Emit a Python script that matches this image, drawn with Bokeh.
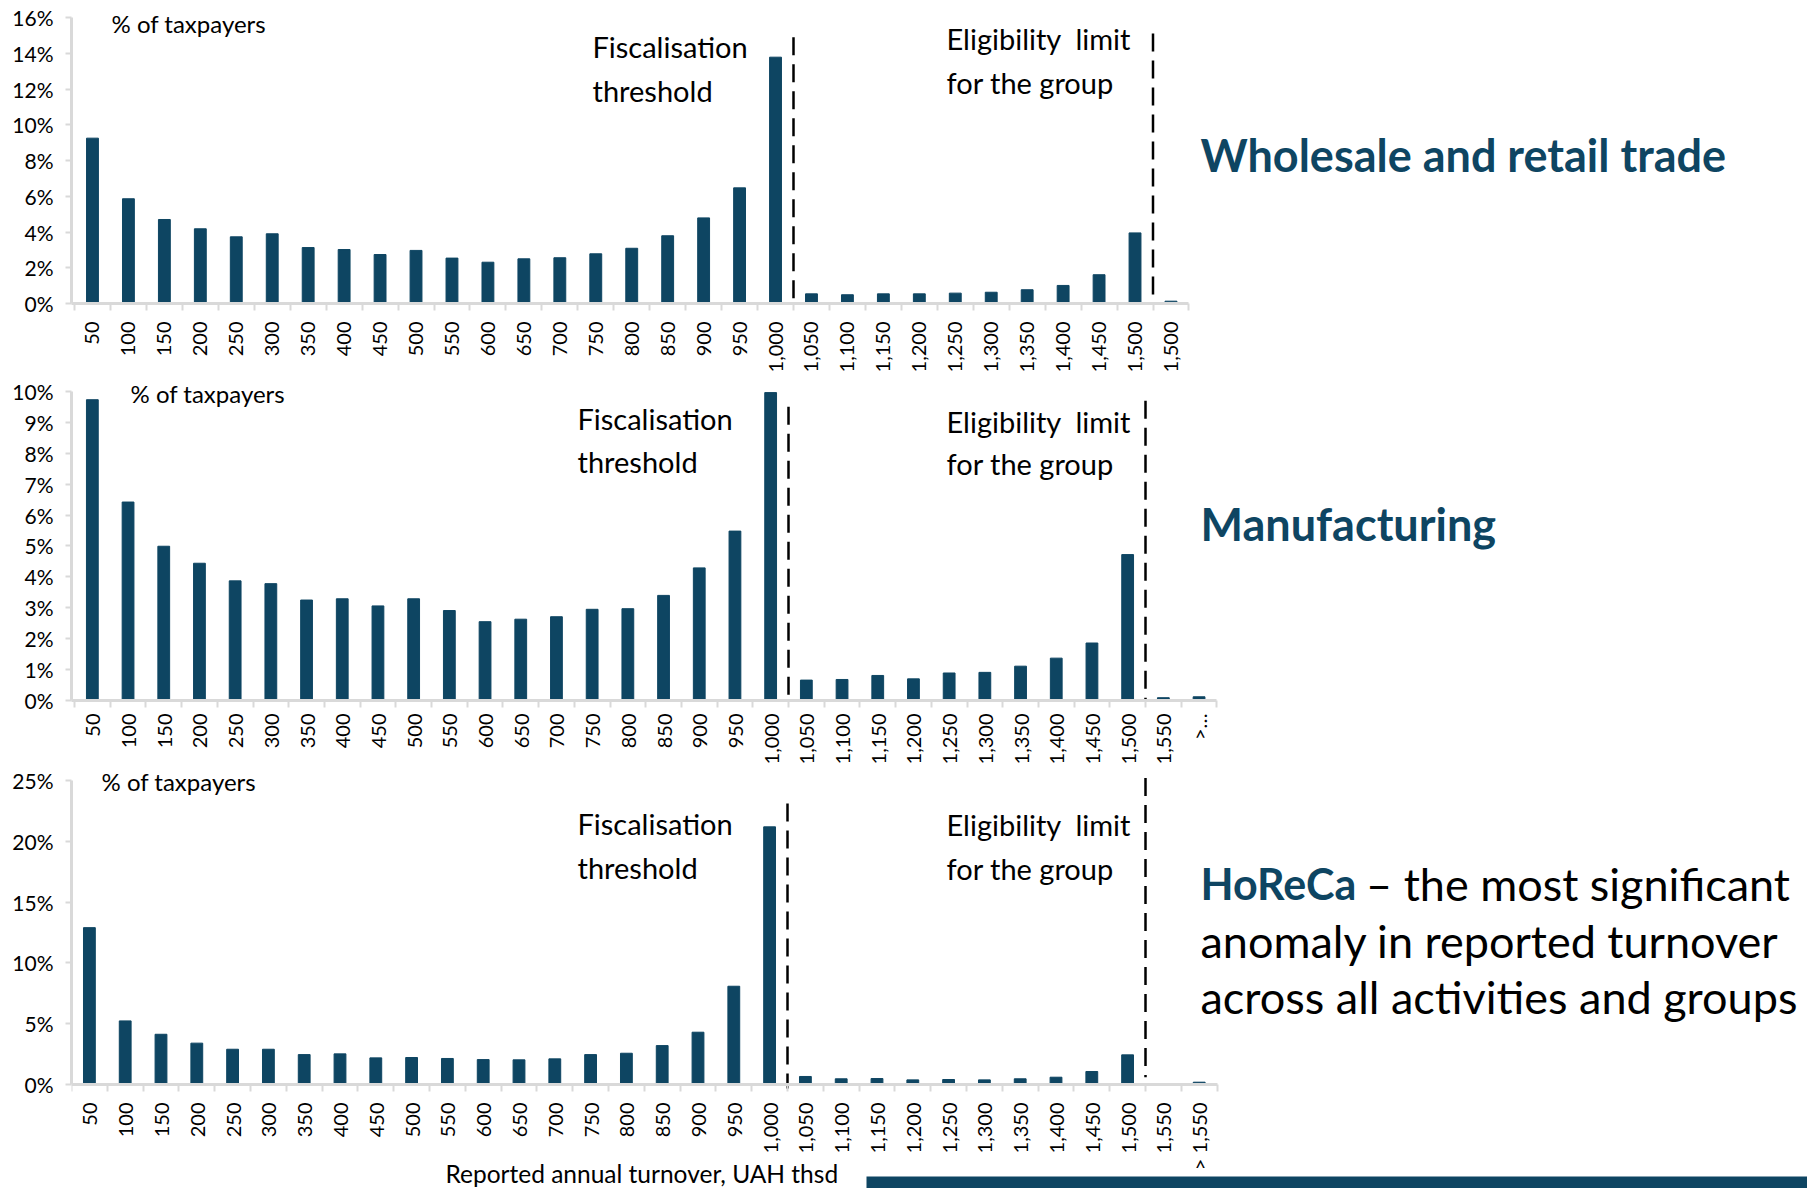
import math
from bokeh.plotting import figure
from bokeh.layouts import column
from bokeh.models import Range1d, FixedTicker, PrintfTickFormatter, Label, BoxAnnotation, ColumnDataSource
from bokeh.embed import file_html
from bokeh.resources import INLINE

# Turnover bins, UAH thsd
base_bins = ["50", "100", "150", "200", "250", "300", "350", "400", "450", "500",
             "550", "600", "650", "700", "750", "800", "850", "900", "950", "1,000",
             "1,050", "1,100", "1,150", "1,200", "1,250", "1,300", "1,350", "1,400",
             "1,450", "1,500"]

trade_bins = base_bins + ["1,500"]
trade_share = [9.25, 5.86, 4.70, 4.18, 3.73, 3.90, 3.13, 3.02, 2.74, 2.97,
               2.54, 2.31, 2.50, 2.56, 2.78, 3.09, 3.79, 4.79, 6.47, 13.78,
               0.54, 0.49, 0.54, 0.54, 0.58, 0.63, 0.77, 1.01, 1.61, 3.95, 0.13]

manuf_bins = base_bins + ["1,550", ">…"]
manuf_share = [9.73, 6.42, 4.99, 4.44, 3.87, 3.78, 3.25, 3.29, 3.06, 3.29,
               2.91, 2.55, 2.63, 2.71, 2.95, 2.97, 3.40, 4.29, 5.48, 9.96,
               0.66, 0.68, 0.81, 0.70, 0.89, 0.91, 1.11, 1.37, 1.86, 4.72, 0.09, 0.12]

horeca_bins = base_bins + ["1,550", "> 1,550"]
horeca_share = [12.90, 5.23, 4.13, 3.40, 2.90, 2.90, 2.46, 2.52, 2.19, 2.22,
                2.14, 2.05, 2.03, 2.11, 2.46, 2.57, 3.20, 4.30, 8.08, 21.19,
                0.66, 0.47, 0.49, 0.38, 0.41, 0.38, 0.47, 0.60, 1.07, 2.44, 0.0, 0.19]

y_max = [16, 10, 25]
y_step = [2, 1, 5]

# Fiscalisation threshold sits after the 1,000 bin, eligibility limit after 1,500
fiscal_after = "1,000"
limit_after_index = 29

BAR = "#0e4562"
AXIS = "#d9d9d9"
FONT = "Lato"
NB = "\u00a0"

W = 1807
LEFT = 71


def make_chart(bins, share, ymax, step, fig_top, fig_h, axis_top, axis_bottom,
               first_px, cat_px, label_standoff, pinned_axis=False):
    """Page-pixel layout: y axis at LEFT, bins start at first_px, frame runs to the right edge.
    With pinned_axis the frame runs to the figure's bottom and the x axis is pinned at y=0."""
    n = len(bins)
    x_start = -0.5 - (first_px - LEFT) / cat_px
    x_end = x_start + (W - LEFT) / cat_px
    unit = (axis_bottom - axis_top) / ymax
    top_val = (axis_bottom - fig_top) / unit
    fig_bottom = fig_top + fig_h
    if pinned_axis:
        y_start = -(fig_bottom - axis_bottom) / unit
        border_bottom = 0
    else:
        y_start = 0
        border_bottom = fig_bottom - axis_bottom
    p = figure(width=W, height=fig_h,
               x_range=Range1d(x_start, x_end), y_range=Range1d(y_start, top_val),
               output_backend="svg", toolbar_location=None,
               min_border_left=LEFT, min_border_right=0,
               min_border_top=0, min_border_bottom=border_bottom)
    p.outline_line_color = None
    p.xgrid.visible = False
    p.ygrid.visible = False
    p.background_fill_color = "white"
    p.border_fill_color = "white"

    idx = list(range(n))
    src = ColumnDataSource(dict(x=idx, top=share))
    p.vbar(x="x", top="top", width=0.33, source=src, color=BAR)

    xa = p.xaxis[0]
    if pinned_axis:
        xa.fixed_location = 0
    xa.bounds = (x_start, n - 0.5)
    xa.ticker = FixedTicker(ticks=idx, minor_ticks=[i - 0.5 for i in range(n + 1)])
    xa.major_label_overrides = {i: b for i, b in enumerate(bins)}
    xa.major_label_orientation = math.pi / 2
    xa.major_tick_line_color = None
    xa.minor_tick_line_color = AXIS
    xa.minor_tick_line_width = 2
    xa.minor_tick_out = 7
    xa.minor_tick_in = 0
    xa.axis_line_color = AXIS
    xa.axis_line_width = 3
    xa.major_label_text_font = FONT
    xa.major_label_text_font_size = "20px"
    xa.major_label_text_color = "#000000"
    xa.major_label_standoff = label_standoff

    ya = p.yaxis[0]
    ya.bounds = (0, ymax)
    ya.ticker = FixedTicker(ticks=list(range(0, ymax + 1, step)))
    ya.formatter = PrintfTickFormatter(format="%d%%")
    ya.axis_line_color = AXIS
    ya.axis_line_width = 3
    ya.major_tick_line_color = AXIS
    ya.major_tick_line_width = 2
    ya.major_tick_out = 6
    ya.major_tick_in = 0
    ya.minor_tick_line_color = None
    ya.major_label_text_font = FONT
    ya.major_label_text_font_size = "21px"
    ya.major_label_text_color = "#000000"
    ya.major_label_standoff = 12

    # page pixels -> data space of this chart
    def dx(px):
        return x_start + (px - LEFT) / cat_px

    def dy(py):
        return (axis_bottom - py) / unit

    return p, dx, dy


def text(p, x, y, s, size, color="#000000", bold=False):
    p.add_layout(Label(x=x, y=y, text=s, text_font=FONT, text_font_size=size,
                       text_color=color, text_font_style="bold" if bold else "normal",
                       text_align="left", text_baseline="middle"))


def dashed(p, x, y_top, y_bottom):
    # drawn downwards so the dash pattern starts at the top end
    p.segment(x0=[x], y0=[y_top], x1=[x], y1=[y_bottom], line_color="black",
              line_width=2.5, line_dash="18 9")


def notes(p, dx, dy, fx, rows):
    text(p, dx(fx), dy(rows[0]), "Fiscalisation", "29px")
    text(p, dx(fx), dy(rows[1]), "threshold", "29px")
    text(p, dx(946), dy(rows[2]), "Eligibility" + NB * 2 + "limit", "29px")
    text(p, dx(946), dy(rows[3]), "for the group", "29px")


fiscal_x = trade_bins.index(fiscal_after) + 0.5
limit_x = limit_after_index + 0.5

# ---- Wholesale and retail trade (page rows 0..377)
p1, dx1, dy1 = make_chart(trade_bins, trade_share, y_max[0], y_step[0],
                          0, 377, 17, 303, 74, 35.95, 11)
text(p1, dx1(111), dy1(23), "% of taxpayers", "24px")
notes(p1, dx1, dy1, 592, [46, 90, 38, 82])
text(p1, dx1(1200), dy1(154), "Wholesale and retail trade", "45px", BAR, bold=True)
dashed(p1, fiscal_x, 14.9, 0)
dashed(p1, limit_x, 15.1, 0)

# ---- Manufacturing (page rows 377..767)
p2, dx2, dy2 = make_chart(manuf_bins, manuf_share, y_max[1], y_step[1],
                          377, 390, 391, 703, 74, 35.7, 6)
text(p2, dx2(130), dy2(393), "% of taxpayers", "24px")
notes(p2, dx2, dy2, 577, [418, 462, 421, 464])
text(p2, dx2(1200), dy2(525), "Manufacturing", "45px", BAR, bold=True)
dashed(p2, fiscal_x, 9.5, 0)
dashed(p2, limit_x, 9.7, 0)

# ---- HoReCa (page rows 767..1188), x axis pinned at 0% so the area below stays drawable
p3, dx3, dy3 = make_chart(horeca_bins, horeca_share, y_max[2], y_step[2],
                          767, 421, 780, 1084, 71, 35.8, 11, pinned_axis=True)
text(p3, dx3(101), dy3(781), "% of taxpayers", "24px")
notes(p3, dx3, dy3, 577, [823, 867, 824, 868])
text(p3, dx3(1200), dy3(883), "HoReCa", "43px", BAR, bold=True)
text(p3, dx3(1354), dy3(883), NB + "– the most significant", "45px")
text(p3, dx3(1200), dy3(940), "anomaly in reported turnover", "45px")
text(p3, dx3(1200), dy3(996), "across all activities and groups", "45px")
text(p3, dx3(445), dy3(1173), "Reported annual turnover, UAH thsd", "24.5px")
p3.add_layout(BoxAnnotation(left=dx3(866), right=dx3(W), top=dy3(1176), bottom=dy3(1188),
                            fill_color=BAR, fill_alpha=1, line_color=None))
dashed(p3, fiscal_x, 23.1, dy3(1088))
dashed(p3, limit_x, 25.2, 0.6)

layout = column(p1, p2, p3, spacing=0)
open("out.html", "w").write(file_html(layout, INLINE))
